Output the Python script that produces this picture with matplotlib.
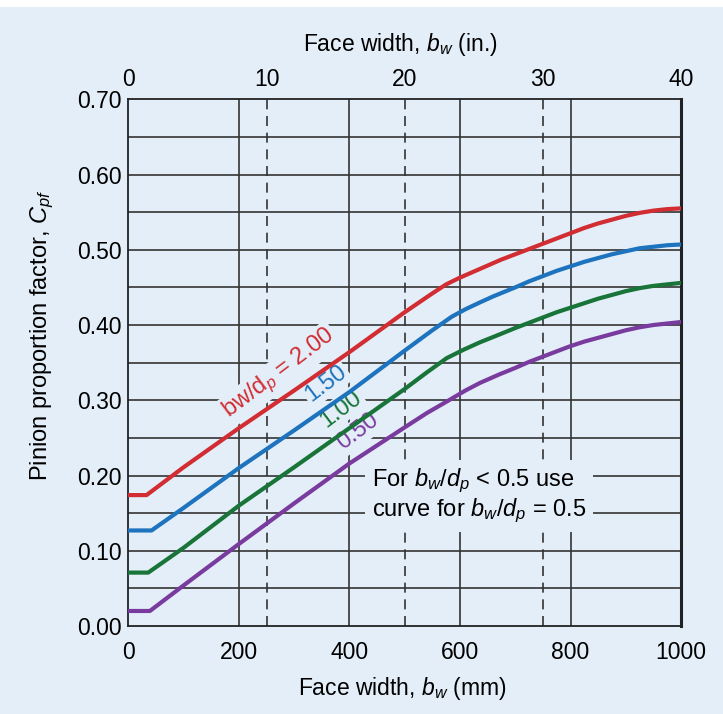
import numpy as np
import matplotlib.pyplot as plt

plt.rcParams['font.family'] = ['Liberation Sans', 'DejaVu Sans']
plt.rcParams['mathtext.fontset'] = 'custom'
plt.rcParams['mathtext.rm'] = 'Liberation Sans'
plt.rcParams['mathtext.it'] = 'Liberation Sans:italic'

# face width b_w (mm) and pinion proportion factor
bw_200 = [0, 33, 100, 200, 250, 300, 400, 500, 550, 575, 600, 625, 650, 675, 700, 725, 750,
          775, 800, 825, 850, 875, 900, 925, 950, 975, 1000]
cpf_200 = [0.174, 0.174, 0.211, 0.263, 0.288, 0.313, 0.364, 0.417, 0.442, 0.454, 0.463, 0.471,
           0.479, 0.487, 0.494, 0.501, 0.508, 0.515, 0.522, 0.529, 0.535, 0.540, 0.545, 0.549,
           0.552, 0.554, 0.555]
bw_150 = [0, 42, 100, 200, 300, 400, 500, 550, 585, 610, 636, 660, 700, 725, 750, 775, 800,
          825, 850, 875, 900, 925, 950, 975, 1000]
cpf_150 = [0.127, 0.127, 0.157, 0.210, 0.260, 0.311, 0.366, 0.393, 0.411, 0.421, 0.430, 0.438,
           0.450, 0.458, 0.465, 0.472, 0.478, 0.484, 0.489, 0.494, 0.498, 0.502, 0.504, 0.506,
           0.507]
bw_100 = [0, 36, 100, 200, 300, 400, 500, 540, 576, 606, 636, 670, 700, 725, 750, 775, 800,
          825, 850, 875, 900, 925, 950, 975, 1000]
cpf_100 = [0.071, 0.071, 0.104, 0.160, 0.211, 0.263, 0.315, 0.337, 0.356, 0.367, 0.377, 0.387,
           0.396, 0.403, 0.410, 0.417, 0.423, 0.429, 0.435, 0.440, 0.445, 0.449, 0.452, 0.454,
           0.456]
bw_050 = [0, 39, 100, 200, 300, 400, 500, 540, 580, 610, 636, 670, 700, 725, 750, 775, 800,
          825, 850, 875, 900, 925, 950, 975, 1000]
cpf_050 = [0.020, 0.020, 0.054, 0.109, 0.163, 0.216, 0.264, 0.283, 0.300, 0.313, 0.323, 0.334,
           0.343, 0.351, 0.358, 0.365, 0.372, 0.378, 0.383, 0.388, 0.393, 0.397, 0.400, 0.402,
           0.404]

mm_ticks = [0, 200, 400, 600, 800, 1000]
in_ticks = [0, 10, 20, 30, 40]
y_ticks = [0.0, 0.1, 0.2, 0.3, 0.4, 0.5, 0.6, 0.7]
MM_PER_IN = 25.0  # top scale as drawn: 40 in over the full 1000 mm width

bg = '#e3eef8'
grid_c = '#333333'

fig = plt.figure(figsize=(7.23, 7.14), dpi=100, facecolor=bg)
fig.patches.append(plt.Rectangle((0, 0.99), 1, 0.01, transform=fig.transFigure,
                                 facecolor='white', edgecolor='none'))
ax = fig.add_axes([0.1775, 0.1232, 0.7645, 0.7378])
ax.set_facecolor(bg)
ax.set_xlim(0, 1000)
ax.set_ylim(0, 0.70)

# grid
for y in np.arange(0.05, 0.70, 0.05):
    ax.axhline(y, color=grid_c, lw=1.2, zorder=1)
for x in mm_ticks[1:-1]:
    ax.axvline(x, color=grid_c, lw=1.2, zorder=1)
for t in in_ticks[1:-1]:
    ax.axvline(t * MM_PER_IN, color=grid_c, lw=1.2, ls=(0, (6, 4)), zorder=1)

# curves
ax.plot(bw_200, cpf_200, color='#d12d33', lw=3, zorder=4, solid_joinstyle='round')
ax.plot(bw_150, cpf_150, color='#1d73be', lw=3, zorder=4, solid_joinstyle='round')
ax.plot(bw_100, cpf_100, color='#187438', lw=3, zorder=4, solid_joinstyle='round')
ax.plot(bw_050, cpf_050, color='#7a3b9e', lw=3, zorder=4, solid_joinstyle='round')

lbl = dict(rotation=37, rotation_mode='anchor', ha='center', va='center', fontsize=17,
           zorder=3, bbox=dict(facecolor=bg, edgecolor='none', pad=1.5))
ax.text(273, 0.335, r'bw/d$_p$ = 2.00', color='#d12d33', **lbl)
ax.text(358, 0.322, '1.50', color='#1d73be', **lbl)
ax.text(385, 0.288, '1.00', color='#187438', **lbl)
ax.text(416, 0.258, '0.50', color='#7a3b9e', **lbl)

ax.text(441, 0.173, 'For $b_w/d_p$ < 0.5 use\ncurve for $b_w/d_p$ = 0.5', fontsize=17,
        ha='left', va='center', linespacing=1.1, zorder=3,
        bbox=dict(facecolor=bg, edgecolor='none', pad=5))

# axes and ticks
ax.set_xticks(mm_ticks)
ax.set_yticks(y_ticks)
ax.set_yticklabels(['%.2f' % v for v in y_ticks])
ax.tick_params(length=0, labelsize=16.5)
ax.tick_params(axis='y', pad=5)
ax.tick_params(axis='x', pad=11)
for s in ['left', 'bottom', 'top']:
    ax.spines[s].set_color('#222222')
    ax.spines[s].set_linewidth(1.3)
ax.spines['right'].set_color('#222222')
ax.spines['right'].set_linewidth(2.2)

top = ax.secondary_xaxis('top', functions=(lambda x: x / MM_PER_IN, lambda x: x * MM_PER_IN))
top.set_xticks(in_ticks)
top.tick_params(length=0, labelsize=16.5, pad=6)
top.spines['top'].set_visible(False)

fig.text(0.557, 1 - 688 / 714, 'Face width, $b_w$ (mm)', fontsize=16.5, ha='center', va='center')
fig.text(0.553, 1 - 44 / 714, 'Face width, $b_w$ (in.)', fontsize=16.5, ha='center', va='center')
fig.text(42 / 723, 1 - 335 / 714, 'Pinion proportion factor, $C_{pf}$', fontsize=17,
         rotation=90, ha='center', va='center')

fig.savefig('out.png', dpi=100, facecolor=bg)
